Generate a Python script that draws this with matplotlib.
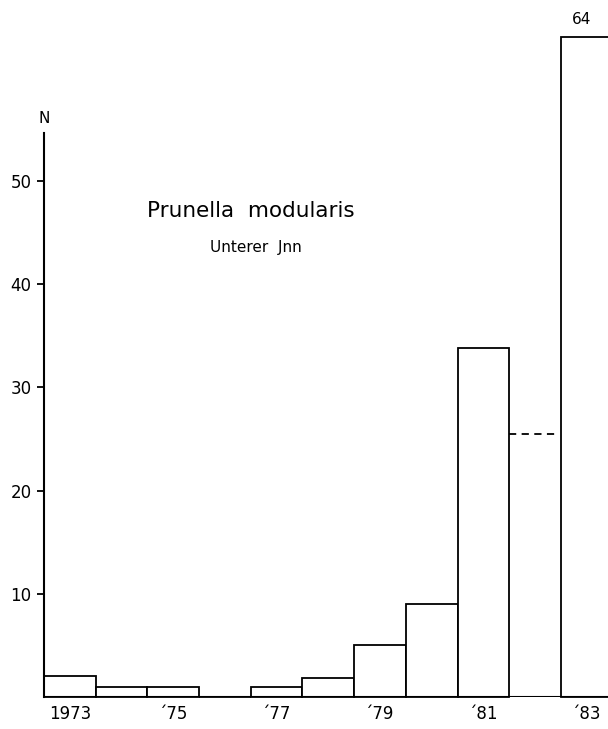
import matplotlib
matplotlib.use("Agg")
import matplotlib.pyplot as plt

# data
years = [1973, 1974, 1975, 1976, 1977, 1978, 1979, 1980, 1981, 1983]
counts = [2, 1, 1, 0, 1, 1.8, 5, 9, 33.8, 64]
dashed_year = 1982
dashed_value = 25.5
tick_years = [1973, 1975, 1977, 1979, 1981, 1983]
tick_labels = ["1973", "\u00b475", "\u00b477", "\u00b479", "\u00b481", "\u00b483"]
y_ticks = [10, 20, 30, 40, 50]
y_labels = ["10", "20", "30", "40", "50"]

W, H = 608, 729
fig = plt.figure(figsize=(W / 100, H / 100), dpi=100)
ax = fig.add_axes([44 / W, 32 / H, 1 - 44 / W, (697 - 16) / H])
ax.set_xlim(1973, 1983.91)
ax.set_ylim(0, 66)

ax.bar(years, counts, width=1.0, align="edge", facecolor="white",
       edgecolor="black", linewidth=1.3, clip_on=False)
ax.plot([dashed_year, dashed_year + 0.9], [dashed_value, dashed_value],
        color="black", linewidth=1.3, linestyle=(0, (4, 3)))
ax.axhline(0, color="black", linewidth=1.5)

# value label above the tall 1983 bar
ax.text(1983.4, 64.9, "64", ha="center", va="bottom", fontsize=11)

for s in ["top", "right", "bottom"]:
    ax.spines[s].set_visible(False)
ax.spines["left"].set_linewidth(1.5)
ax.spines["left"].set_bounds(0, 54.7)

ax.set_yticks(y_ticks)
ax.set_yticklabels(y_labels, fontsize=12)
ax.tick_params(axis="y", direction="out", length=5, width=1.3, pad=4)
ax.set_xticks([y + 0.5 for y in tick_years])
ax.set_xticklabels(tick_labels, fontsize=12)
ax.tick_params(axis="x", length=0, pad=6)

ax.text(1973, 55.3, "N", ha="center", va="bottom", fontsize=11)
ax.text(1977.0, 47.1, "Prunella  modularis", ha="center", va="center", fontsize=15.5)
ax.text(1977.1, 43.6, "Unterer  Jnn", ha="center", va="center", fontsize=11)

fig.savefig("out.png", dpi=100)
